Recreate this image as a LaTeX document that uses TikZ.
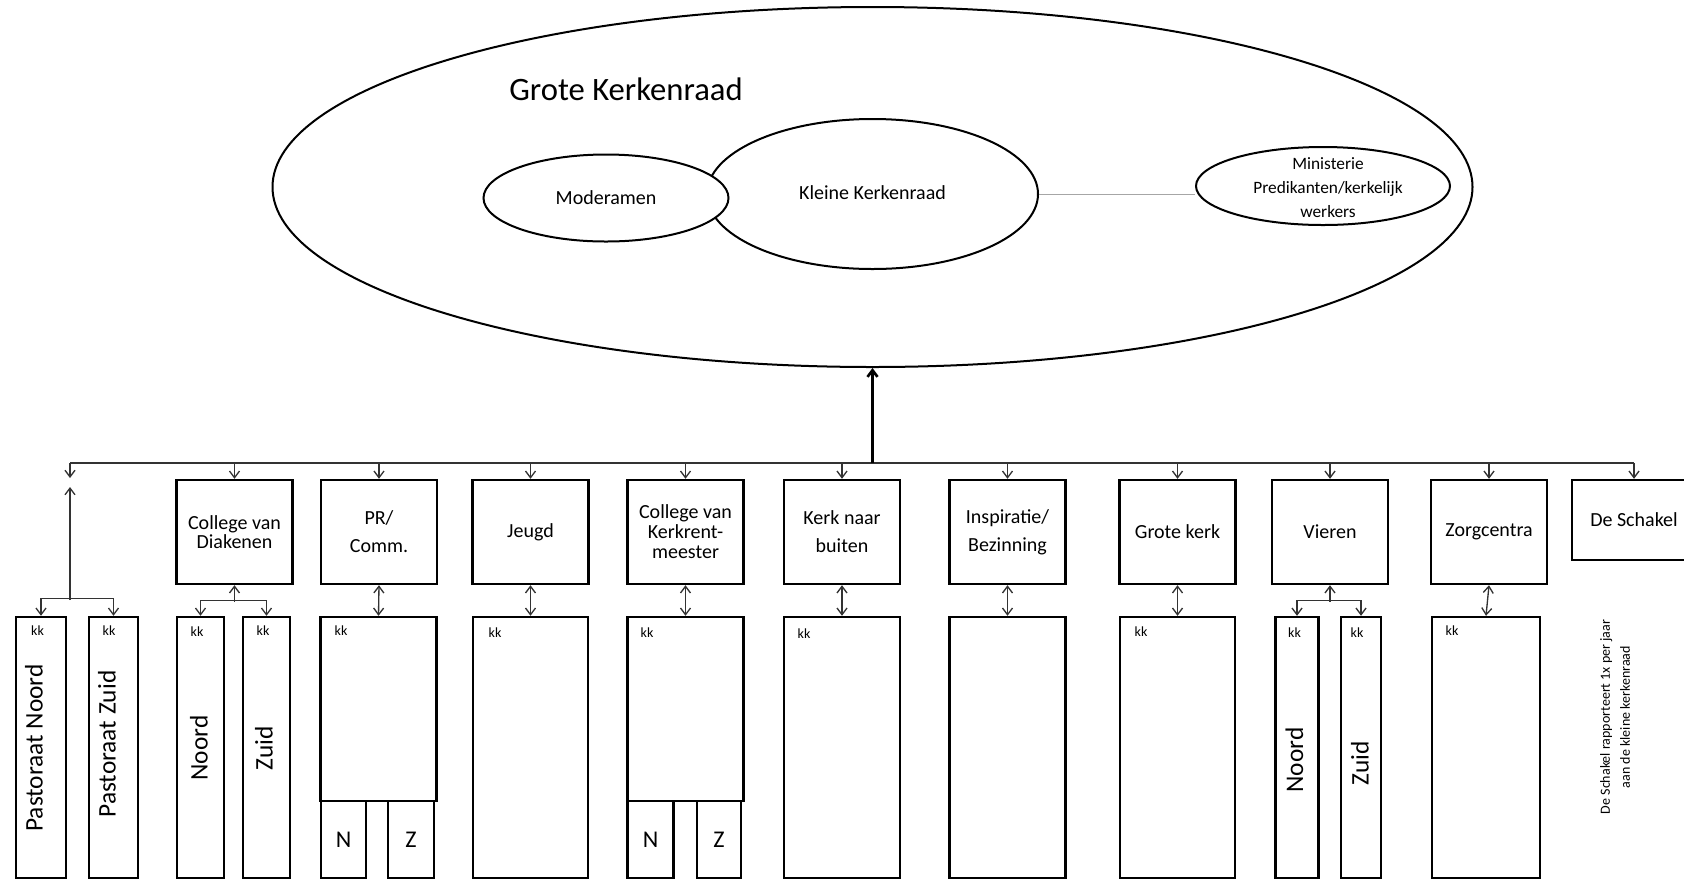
\documentclass[tikz,border=0pt]{standalone}
\usepackage{fontspec}
\setmainfont{Carlito}
\usetikzlibrary{shapes.geometric,arrows.meta}

\tikzset{every picture/.style={line width=0.75pt}}
\tikzset{
  box/.style={draw, line width=1.8pt, inner sep=0pt, align=center, minimum width=87pt, minimum height=78pt, font=\fontsize{15}{15}\selectfont},
  col/.style={draw, line width=1.8pt, inner sep=0pt, minimum height=195.75pt},
  half/.style={draw, line width=1.8pt, inner sep=0pt, minimum width=87pt, minimum height=138pt},
  foot/.style={draw, line width=1.8pt, inner sep=0pt, minimum height=57.75pt, font=\fontsize{18}{18}\selectfont},
  oval/.style={draw, ellipse, line width=1.5pt, inner sep=0pt, fill=white},
  vtext/.style={rotate=90, inner sep=0pt, font=\fontsize{19}{19}\selectfont},
  note/.style={rotate=90, inner sep=0pt, align=center, font=\fontsize{10.5}{15}\selectfont},
  kk/.style={inner sep=0pt, font=\fontsize{10.5}{10.5}\selectfont},
  bus/.style={line width=1pt, draw=black!80},
  tipdown/.style={bus, -{Straight Barb[length=5pt,width=7.5pt]}},
  tipboth/.style={bus, {Straight Barb[length=5pt,width=7.5pt]}-{Straight Barb[length=5pt,width=7.5pt]}},
  mainline/.style={line width=2pt, -{Straight Barb[length=5pt,width=7.5pt]}},
}

\begin{document}
\begin{tikzpicture}[x=0.75pt,y=0.75pt,yscale=-1,xscale=1]
\useasboundingbox (0,0) rectangle (1684,883);

%Shape: Ellipse [grote kerkenraad]
\node[oval, minimum width=900pt, minimum height=270pt] (grote) at (872.5,187) {};
%Shape: Ellipse [kleine kerkenraad]
\node[oval, minimum width=248.25pt, minimum height=112.5pt] (kleine) at (872.5,194) {};
%Shape: Ellipse [moderamen]
\node[oval, minimum width=183.75pt, minimum height=65.25pt] (moder) at (606,198) {};
%Shape: Ellipse [ministerie]
\node[oval, minimum width=190.5pt, minimum height=58.5pt] (minis) at (1323,186) {};
%Straight Lines [kleine - ministerie]
\draw[line width=0.4pt, draw=black!35] (kleine.east) -- (kleine.east -| minis.west);

% Text Node
\node[font=\fontsize{24.5}{24.5}\selectfont] (grotet) at (626,89) {Grote Kerkenraad};
% Text Node
\node[font=\fontsize{15}{15}\selectfont] (kleinet) at (872.5,193) {Kleine Kerkenraad};
% Text Node
\node[font=\fontsize{15}{15}\selectfont] (modert) at (606,198) {Moderamen};
% Text Node
\node[align=center, font=\fontsize{13}{18}\selectfont] (minist) at (1328,188) {Ministerie\\Predikanten/kerkelijk\\werkers};

%Shape: Rectangle [top row]
\node[box, font=\fontsize{15}{14.25}\selectfont] (diak) at (234.5,532) {College van\\Diakenen};
\node[box, font=\fontsize{15}{21}\selectfont] (pr) at (379,532) {PR/\\Comm.};
\node[box] (jeugd) at (530.5,532) {Jeugd};
\node[box] (kkm) at (685.5,532) {College van\\Kerkrent-\\meester};
\node[box, font=\fontsize{15}{21}\selectfont] (kerk) at (842,532) {Kerk naar\\buiten};
\node[box, font=\fontsize{15}{21}\selectfont] (insp) at (1007.5,532) {Inspiratie/\\Bezinning};
\node[box] (grk) at (1177.5,532) {Grote kerk};
\node[box] (vieren) at (1330,532) {Vieren};
\node[box] (zorg) at (1489,532) {Zorgcentra};
\node[box, minimum width=93pt, minimum height=60pt] (schakel) at (1634,520) {De Schakel};

%Shape: Rectangle [bottom row]
\node[col, minimum width=37.5pt] (pnoord) at (41,747.5) {};
\node[col, minimum width=36.75pt] (pzuid) at (113.5,747.5) {};
\node[col, minimum width=35.25pt] (dnoord) at (200.5,747.5) {};
\node[col, minimum width=35.25pt] (dzuid) at (266.5,747.5) {};
\node[half] (prk) at (378.5,709) {};
\node[foot, minimum width=33.75pt] (prn) at (343.5,839.5) {N};
\node[foot, minimum width=34.5pt] (prz) at (411,839.5) {Z};
\node[col, minimum width=86.25pt] (jeugdk) at (530.5,747.5) {};
\node[half] (kkmk) at (685.5,709) {};
\node[foot, minimum width=34.5pt] (kkmn) at (650.5,839.5) {N};
\node[foot, minimum width=33pt] (kkmz) at (719,839.5) {Z};
\node[col, minimum width=87pt] (kerkk) at (842,747.5) {};
\node[col, minimum width=87pt] (inspk) at (1007.5,747.5) {};
\node[col, minimum width=86.25pt] (grkk) at (1177.5,747.5) {};
\node[col, minimum width=32pt] (vnoord) at (1297,747.5) {};
\node[col, minimum width=30.4pt] (vzuid) at (1361,747.5) {};
\node[col, minimum width=81pt] (zorgk) at (1486,747.5) {};

% Text Node [vertical]
\node[vtext] (pnoordt) at (34,748) {Pastoraat Noord};
\node[vtext] (pzuidt) at (107,744) {Pastoraat Zuid};
\node[vtext] (dnoordt) at (199,748) {Noord};
\node[vtext] (dzuidt) at (264,748) {Zuid};
\node[vtext] (vnoordt) at (1294.5,760) {Noord};
\node[vtext] (vzuidt) at (1360,763) {Zuid};
\node[note] (schakelt) at (1615,717) {De Schakel rapporteert 1x per jaar\\aan de kleine kerkenraad};

% Text Node [kk]
\node[kk] (kk1) at (37.5,631) {kk};
\node[kk] (kk2) at (109,631) {kk};
\node[kk] (kk3) at (197,632) {kk};
\node[kk] (kk4) at (263,631) {kk};
\node[kk] (kk5) at (341,631) {kk};
\node[kk] (kk6) at (495,633) {kk};
\node[kk] (kk7) at (647,633) {kk};
\node[kk] (kk8) at (804,634) {kk};
\node[kk] (kk9) at (1141,632) {kk};
\node[kk] (kk10) at (1294.5,633) {kk};
\node[kk] (kk11) at (1357,633) {kk};
\node[kk] (kk12) at (1452,631) {kk};

%Straight Lines [bus]
\coordinate (busL) at (70,463);
\coordinate (busR) at (1634,463);
\draw[bus] (busL) -- (busR);
\draw[mainline] (grote.south |- busL) -- (grote.south);

%Straight Lines [bus to boxes]
\coordinate (pastop) at (70,478);
\draw[tipdown] (busL) -- (pastop);
\draw[tipdown] (diak.north |- busL) -- (diak.north);
\draw[tipdown] (pr.north |- busL) -- (pr.north);
\draw[tipdown] (jeugd.north |- busL) -- (jeugd.north);
\draw[tipdown] (kkm.north |- busL) -- (kkm.north);
\draw[tipdown] (kerk.north |- busL) -- (kerk.north);
\draw[tipdown] (insp.north |- busL) -- (insp.north);
\draw[tipdown] (grk.north |- busL) -- (grk.north);
\draw[tipdown] (vieren.north |- busL) -- (vieren.north);
\draw[tipdown] (zorg.north |- busL) -- (zorg.north);
\draw[tipdown] (schakel.north |- busL) -- (schakel.north);

%Straight Lines [top to bottom]
\draw[tipboth] (pr.south) -- (prk.north);
\draw[tipboth] (jeugd.south) -- (jeugdk.north);
\draw[tipboth] (kkm.south) -- (kkmk.north);
\draw[tipboth] (kerk.south) -- (kerkk.north);
\draw[tipboth] (insp.south) -- (inspk.north);
\draw[tipboth] (grk.south) -- (grkk.north);
\draw[tipboth] (zorg.south) -- (zorgk.north);

%Straight Lines [brackets]
\coordinate (pasjoin) at (70,600);
\coordinate (pasup) at (70,487);
\draw[tipboth] (pnoord.north) -- ++(0,-17) -| (pzuid.north);
\draw[tipdown] (pasjoin) -- (pasup);
\coordinate (diakjoin) at (234.5,602);
\draw[tipboth] (dnoord.north) -- ++(0,-15) -| (dzuid.north);
\draw[tipdown] (diakjoin) -- (diak.south);
\coordinate (vierjoin) at (1330,602);
\draw[tipboth] (vnoord.north) -- ++(0,-15) -| (vzuid.north);
\draw[tipdown] (vierjoin) -- (vieren.south);

\end{tikzpicture}
\end{document}
